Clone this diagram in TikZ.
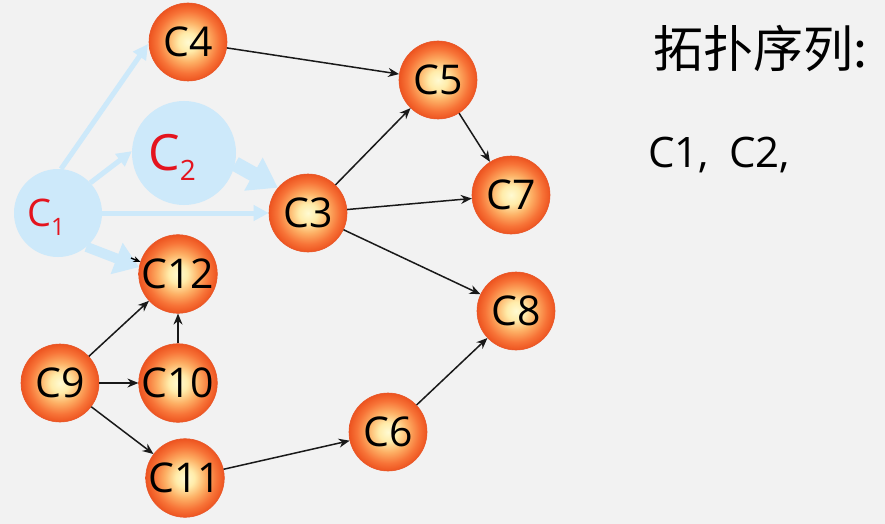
\documentclass[tikz,border=0pt]{standalone}
\usepackage{fontspec}
\setmainfont{Open Sans}
\newfontfamily\cjk{Noto Sans CJK SC}
\usetikzlibrary{arrows.meta}
\definecolor{bg}{RGB}{242,242,242}
\definecolor{lb}{RGB}{205,233,250}
\definecolor{hand}{RGB}{228,20,30}
\definecolor{obA}{RGB}{255,250,210}
\definecolor{obB}{RGB}{255,236,170}
\definecolor{obC}{RGB}{253,175,100}
\definecolor{obD}{RGB}{247,115,55}
\definecolor{obE}{RGB}{237,84,32}
\definecolor{obd}{RGB}{232,86,40}
\pgfdeclareradialshading{orangeball}{\pgfpoint{0bp}{0bp}}{color(0bp)=(obA); color(6bp)=(obB); color(13bp)=(obC); color(20bp)=(obD); color(25bp)=(obE); color(50bp)=(obE)}
\pgfdeclarelayer{background}
\pgfsetlayers{background,main}
\begin{document}
\begin{tikzpicture}[x=1pt,y=-1pt,
  cnode/.style={circle, minimum size=78pt, inner sep=0pt, shading=orangeball, draw=obd, line width=0.6pt, font=\fontsize{41}{44}\selectfont},
  dep/.style={-{Stealth[length=11pt,width=9pt]}, line width=1.5pt, black!90},
  ghost/.style={circle, fill=lb, inner sep=0pt},
  ghostarrow/.style={draw=lb, line width=5pt, -{Triangle[length=15pt,width=15pt,fill=lb]}},
  handtext/.style={text=hand, inner sep=0pt},
  ]
\begin{pgfonlayer}{background}
\fill[bg] (0,0) rectangle (885,524);
\end{pgfonlayer}
\useasboundingbox (0,0) rectangle (885,524);

% orange nodes
\node[cnode] (C4) at (188,42) {C4};
\node[cnode] (C5) at (438,80) {C5};
\node[cnode] (C3) at (308,213) {C3};
\node[cnode] (C7) at (511,195) {C7};
\node[cnode] (C12) at (178,274) {C12};
\node[cnode] (C8) at (516,311) {C8};
\node[cnode] (C9) at (60,383) {C9};
\node[cnode] (C10) at (178,383) {C10};
\node[cnode] (C6) at (388,432) {C6};
\node[cnode] (C11) at (185,478) {C11};

% faded nodes
\begin{pgfonlayer}{background}
\node[ghost, minimum size=88pt] (g1) at (58,213) {};
\node[ghost, minimum size=104pt] (g2) at (184,153) {};
\coordinate (t4) at (148,44);
\draw[ghostarrow] (g1.86) -- (t4);
\draw[ghostarrow] (g1.43) -- (g2.178);
\draw[ghostarrow] (g1.east) -- (C3.west);
\draw[ghostarrow, line width=10pt, -{Triangle[length=24pt,width=32pt,fill=lb]}] (g1.-50) -- (C12.170);
\draw[ghostarrow, line width=15pt, -{Triangle[length=28pt,width=36pt,fill=lb]}] (g2.-12) -- (C3.140);
\end{pgfonlayer}

\coordinate (bk) at (131,258);
\draw[black, line width=1.4pt, -{Stealth[length=7pt,width=6pt]}] (bk) -- (C12.162);

% handwritten labels
\node[handtext, font=\fontsize{38}{40}\selectfont] (h1) at (46,217) {C\raisebox{-9pt}{\fontsize{24}{24}\selectfont 1}};
\node[handtext, font=\fontsize{50}{52}\selectfont] (h2) at (172,157) {C\raisebox{-10pt}{\fontsize{28}{28}\selectfont 2}};

% edges
\draw[dep] (C4) -- (C5);
\draw[dep] (C3) -- (C5);
\draw[dep] (C5) -- (C7);
\draw[dep] (C3) -- (C7);
\draw[dep] (C3) -- (C8);
\draw[dep] (C9) -- (C12);
\draw[dep] (C10) -- (C12);
\draw[dep] (C9) -- (C10);
\draw[dep] (C9) -- (C11);
\draw[dep] (C11) -- (C6);
\draw[dep] (C6) -- (C8);

% text
\node[anchor=base west, inner sep=0pt, font=\cjk\fontsize{50}{50}\selectfont] (title) at (653,68) {拓扑序列:};
\node[anchor=base west, inner sep=0pt, font=\fontsize{42}{42}\selectfont] (seq) at (648,167) {C1,\hspace{20pt}C2,};
\end{tikzpicture}
\end{document}
